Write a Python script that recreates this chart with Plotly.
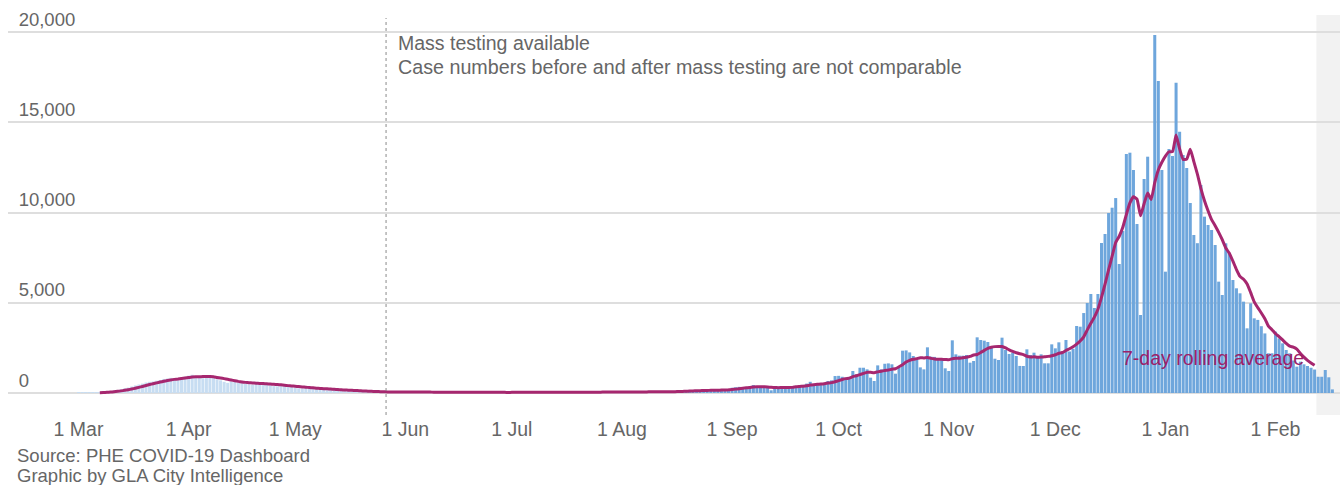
import pandas as pd
import plotly.graph_objects as go

# ---- data: daily confirmed cases (London) ----
cases_mar = [3, 5, 8, 12, 20, 30, 45, 60, 85, 110, 140, 170, 210, 260, 300, 360, 420, 470, 520, 580,
             620, 640, 680, 720, 780, 800, 840, 820, 790, 860, 900]
cases_apr = [960, 1010, 940, 860, 820, 920, 900, 850, 760, 700, 620, 560, 640, 620, 600, 560, 520, 480,
             460, 540, 560, 520, 480, 430, 380, 370, 420, 400, 380, 350]
cases_may = [310, 260, 250, 290, 280, 260, 230, 210, 170, 160, 200, 190, 170, 150, 130, 110, 100, 120,
             110, 85, 75, 65, 60, 55, 60, 55, 50, 48, 45, 42, 45]
cases_jun = [55, 60, 50, 48, 52, 45, 40, 50, 48, 45, 42, 40, 38, 35, 45, 42, 40, 38, 36, 34,
             30, 38, 40, 36, 35, 34, 32, 30, 36, 38]
cases_jul = [40, 38, 42, 36, 30, 45, 42, 40, 38, 44, 35, 32, 45, 48, 46, 44, 42, 38, 36, 50,
             52, 55, 48, 50, 42, 40, 56, 58, 60, 55, 52]
cases_aug = [50, 45, 65, 70, 72, 68, 60, 55, 70, 75, 80, 78, 72, 65, 60, 85, 120, 130, 140, 135,
             125, 120, 150, 160, 170, 175, 165, 150, 160, 200, 220]
cases_sep = [290, 320, 340, 330, 310, 340, 440, 320, 310, 330, 300, 150, 300, 350, 360, 340, 330, 350,
             380, 420, 450, 520, 620, 500, 480, 500, 560, 665, 700, 940]
cases_oct = [950, 900, 850, 780, 1220, 1040, 1400, 1400, 1310, 850, 665, 1530, 1310, 1620, 1640, 1590,
             1070, 1400, 2345, 2360, 2250, 2050, 1865, 1420, 1310, 2530, 2013, 2000, 1920, 1865, 1367]
cases_nov = [1218, 2918, 2142, 2068, 2068, 2105, 1680, 1773, 3084, 2937, 2900, 2826, 2567, 1900, 1830,
             3066, 2382, 2160, 2234, 2050, 1500, 1496, 2419, 2105, 2234, 2013, 2142, 1644, 1644, 2696]
cases_dec = [2474, 2807, 2290, 2937, 2300, 2450, 3712, 3673, 4430, 4986, 5485, 4710, 5485, 8310, 8809,
             9972, 10265, 10800, 7146, 8975, 13240, 13313, 12354, 9362, 4321, 11856, 13092, 10748,
             19833, 17285, 12354]
cases_jan = [6722, 13518, 13130, 17190, 14477, 13185, 12465, 10526, 8753, 8300, 11525, 9771, 9309, 9032,
             8200, 6169, 5430, 8293, 7739, 6261, 5800, 5523, 5061, 3583, 4968, 4137, 4050, 3700, 3300,
             2200, 2200]
cases_feb = [3398, 3029, 2752, 2383, 2198, 1800, 1459, 1736, 1588, 1496, 1400, 1300, 900, 900, 1274,
             870, 200]

START_DATE = "2020-03-01"
MASS_TESTING_DATE = "2020-05-26 14:00"
LAST_COMPLETE_DATE = "2021-02-12"
X_RANGE = ["2020-02-10 03:36", "2021-02-19 03:36"]
Y_RANGE = [-1219, 21330]
Y_TICKS = [0, 5000, 10000, 15000, 20000]
MONTH_TICKS = pd.date_range("2020-03-01", "2021-02-01", freq="MS")

cases = (cases_mar + cases_apr + cases_may + cases_jun + cases_jul + cases_aug +
         cases_sep + cases_oct + cases_nov + cases_dec + cases_jan + cases_feb)
dates = pd.date_range(START_DATE, periods=len(cases), freq="D")
s = pd.Series(cases, index=dates)
rolling = s.rolling(7).mean()
rolling = rolling[rolling.index <= pd.Timestamp(LAST_COMPLETE_DATE)]

mass_ts = pd.Timestamp(MASS_TESTING_DATE)
bar_colors = ["#c7ddf2" if d < mass_ts else "#6ea6dc" for d in dates]

LINE_COL = "#a6276f"
TXT_COL = "#666666"
FONT = "Liberation Sans, Arial, sans-serif"

fig = go.Figure()
fig.add_trace(go.Bar(x=dates, y=cases, marker=dict(color=bar_colors, line=dict(width=0)),
                     hoverinfo="x+y", showlegend=False))
fig.add_trace(go.Scatter(x=rolling.index, y=rolling.values, mode="lines",
                         line=dict(color=LINE_COL, width=3, shape="spline", smoothing=0.4),
                         showlegend=False))

# incomplete-data shading
fig.add_shape(type="rect", xref="x", yref="paper",
              x0=pd.Timestamp(LAST_COMPLETE_DATE) + pd.Timedelta(hours=12), x1=X_RANGE[1],
              y0=0, y1=0.983, fillcolor="#f2f2f2", line=dict(width=0), layer="below")
# mass testing line
fig.add_shape(type="line", xref="x", yref="paper", x0=mass_ts, x1=mass_ts, y0=0, y1=0.9754,
              line=dict(color="#8a8a8a", width=1, dash="dot"))

ann_font = dict(size=19.5, color=TXT_COL, family=FONT)
fig.add_annotation(x=mass_ts, xref="x", xanchor="left", xshift=10, y=0.914, yref="paper",
                   yanchor="middle", showarrow=False, text="Mass testing available", font=ann_font)
fig.add_annotation(x=mass_ts, xref="x", xanchor="left", xshift=10, y=0.855, yref="paper",
                   yanchor="middle", showarrow=False,
                   text="Case numbers before and after mass testing are not comparable",
                   font=dict(size=19.7, color=TXT_COL, family=FONT))
fig.add_annotation(x=0.835, xref="paper", xanchor="left", y=0.140, yref="paper", yanchor="middle",
                   showarrow=False, text="7-day rolling average",
                   font=dict(size=19.5, color="#9c2068", family=FONT))
fig.add_annotation(x=0.0053, xref="paper", xanchor="left", y=-0.1007, yref="paper", yanchor="middle",
                   showarrow=False, text="Source: PHE COVID-19 Dashboard",
                   font=dict(size=18.5, color=TXT_COL, family=FONT))
fig.add_annotation(x=0.0053, xref="paper", xanchor="left", y=-0.1475, yref="paper", yanchor="middle",
                   showarrow=False, text="Graphic by GLA City Intelligence",
                   font=dict(size=18.5, color=TXT_COL, family=FONT))

fig.update_layout(
    width=1340, height=485,
    margin=dict(l=8, r=0, t=8, b=70),
    paper_bgcolor="white", plot_bgcolor="white",
    bargap=0.15,
    font=dict(family=FONT, size=18, color=TXT_COL),
    xaxis=dict(type="date", range=X_RANGE, tickvals=list(MONTH_TICKS), tickformat="%-d %b",
               domain=[0, 1], showgrid=False, zeroline=False, showline=False, ticks="",
               tickfont=dict(size=19.5, color=TXT_COL)),
    yaxis=dict(range=Y_RANGE, tickvals=Y_TICKS, tickformat=",", showgrid=True,
               anchor="free", position=0.005,
               gridcolor="#dedede", gridwidth=1.5, zeroline=False, showline=False, ticks="",
               ticklabelposition="inside top",
               tickfont=dict(size=18.5, color=TXT_COL)),
)

fig.write_html("out.html", config={"displayModeBar": False},
               post_script="document.body.style.margin='0px';")
